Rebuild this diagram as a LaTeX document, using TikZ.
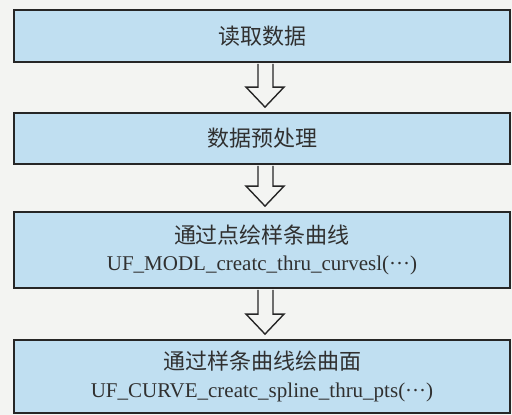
\documentclass[tikz,border=0pt]{standalone}
\usepackage{fontspec}
\setmainfont{Liberation Serif}
\newfontfamily\cjk{Noto Sans CJK SC}
\usetikzlibrary{calc}
\definecolor{boxfill}{HTML}{C0DFF1}
\definecolor{bg}{HTML}{F3F4F2}
\definecolor{ink}{HTML}{262626}
\definecolor{txt}{HTML}{303030}
\tikzset{
  stepbox/.style={draw=ink, line width=1.8pt, fill=boxfill, rectangle,
    minimum width=496pt, inner sep=0pt, align=center, text=txt,
    font=\fontsize{21}{27.5}\selectfont},
  hollow/.style={draw=ink, line width=1.4pt, fill=bg, line join=miter}
}
\begin{document}
\begin{tikzpicture}[x=1pt, y=-1pt]
\fill[bg] (0,0) rectangle (512,415);
\useasboundingbox (0,0) rectangle (512,415);

\node[stepbox, minimum height=52pt] (a) at (262,36) {\cjk\fontsize{22}{27.5}\selectfont 读取数据};
\node[stepbox, minimum height=51pt] (b) at (262,138.5) {\cjk\fontsize{22}{27.5}\selectfont 数据预处理};
\node[stepbox, minimum height=76pt] (c) at (262,250) {{\cjk\fontsize{22}{27.5}\selectfont 通过点绘样条曲线}\\UF\_MODL\_creatc\_thru\_curvesl(···)};
\node[stepbox, minimum height=73pt] (d) at (262,376.5) {{\cjk\fontsize{22}{27.5}\selectfont 通过样条曲线绘曲面}\\UF\_CURVE\_creatc\_spline\_thru\_pts(···)};

\foreach \s/\t in {a/b, b/c, c/d}{
  \draw[hollow] ($(\s.south)+(-4,1)$) -- ($(\t.north)+(-4,-25)$) -- ($(\t.north)+(-16,-25)$)
    -- ($(\t.north)+(3,-5)$) -- ($(\t.north)+(22,-25)$) -- ($(\t.north)+(11,-25)$)
    -- ($(\s.south)+(11,1)$);
}
\end{tikzpicture}
\end{document}
